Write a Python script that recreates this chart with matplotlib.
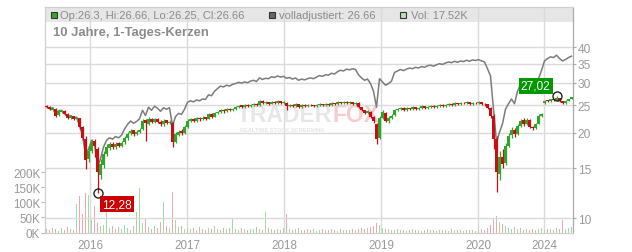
import matplotlib
matplotlib.use('Agg')
import matplotlib.pyplot as plt
import numpy as np
from matplotlib.ticker import FixedLocator, NullLocator, FuncFormatter
from matplotlib.patches import Rectangle

plt.rcParams['font.family'] = ['Liberation Sans', 'DejaVu Sans']

# ---------------- data (one candle per ~8 trading days) ----------------
opens = [
    24.9, 24.6, 24.1, 24.3, 23.1, 23.7, 23.9, 23.2, 22.5, 22.9,
    22.3, 22.5, 21.0, 19.0, 16.2, 17.3, 18.7, 17.5, 14.2, 15.4,
    16.9, 17.7, 18.3, 17.8, 18.4, 18.0, 18.5, 19.1, 19.9, 20.4,
    19.8, 20.2, 20.6, 22.1, 21.5, 22.4, 21.8, 22.4, 21.9, 21.4,
    22.1, 21.6, 21.6, 18.6, 19.7, 20.3, 20.0, 21.0, 22.0, 22.4,
    22.0, 22.6, 22.3, 22.7, 22.4, 23.3, 22.8, 23.4, 23.6, 24.1,
    23.8, 24.3, 24.0, 24.3, 24.6, 25.0, 24.7, 25.0, 24.8, 25.1,
    25.3, 25.0, 25.9, 25.4, 25.6, 25.3, 25.7, 25.5, 25.8, 25.4,
    25.5, 24.8, 25.1, 24.9, 25.2, 24.7, 25.0, 24.9, 25.1, 25.0,
    24.8, 25.0, 25.2, 25.0, 25.3, 25.1, 25.4, 25.2, 25.6, 25.4,
    25.7, 25.5, 25.6, 25.3, 25.5, 24.6, 24.0, 23.5, 23.7, 22.8,
    21.5, 19.2, 22.6, 23.5, 22.0, 22.6, 23.1, 24.0, 24.2, 24.5,
    24.1, 24.4, 24.3, 24.6, 24.2, 24.5, 24.8, 24.4, 24.7, 24.9,
    24.6, 24.9, 25.1, 24.8, 25.0, 25.3, 25.1, 25.4, 25.2, 25.5,
    25.4, 25.6, 25.3, 25.5, 25.4, 25.6, 25.3, 25.2, 24.5, 23.0,
    19.0, 14.3, 16.5, 15.6, 18.0, 19.6, 20.5, 19.8, 21.2, 22.1,
    21.5, 22.2, 21.0, 20.8, 21.5, 23.0, 25.4, 26.0, 25.9, 26.2,
    26.0, 26.5, 25.8, 25.5, 25.9, 26.3,
]
closes = [
    24.6, 24.2, 24.4, 23.0, 23.8, 23.9, 23.3, 22.6, 22.9, 22.4,
    22.6, 21.0, 19.2, 16.0, 17.2, 18.6, 18.0, 14.5, 15.5, 16.8,
    17.8, 18.2, 17.8, 18.3, 18.0, 18.4, 19.2, 19.8, 20.3, 19.8,
    20.1, 20.5, 22.0, 21.6, 22.4, 21.8, 22.3, 21.9, 21.4, 22.0,
    21.7, 21.9, 18.5, 19.8, 20.2, 20.0, 21.0, 22.0, 22.3, 22.0,
    22.5, 22.3, 22.6, 22.4, 23.2, 22.8, 23.4, 23.6, 24.0, 23.8,
    24.2, 24.0, 24.3, 24.6, 24.9, 24.7, 25.0, 24.8, 25.1, 25.3,
    25.0, 25.9, 25.4, 25.6, 25.3, 25.7, 25.5, 25.8, 25.4, 25.6,
    24.8, 25.1, 24.9, 25.2, 24.7, 25.0, 24.9, 25.1, 25.0, 24.8,
    25.0, 25.2, 25.0, 25.3, 25.1, 25.4, 25.2, 25.6, 25.4, 25.7,
    25.5, 25.6, 25.3, 25.5, 24.6, 24.0, 23.5, 23.8, 22.8, 22.0,
    19.0, 22.5, 23.6, 22.0, 22.6, 23.0, 24.0, 24.2, 24.5, 24.1,
    24.4, 24.3, 24.6, 24.2, 24.5, 24.8, 24.4, 24.7, 24.9, 24.6,
    24.9, 25.1, 24.8, 25.0, 25.3, 25.1, 25.4, 25.2, 25.5, 25.4,
    25.6, 25.3, 25.5, 25.4, 25.6, 25.3, 25.2, 24.5, 23.0, 19.0,
    14.5, 16.5, 15.5, 18.0, 19.5, 20.5, 19.8, 21.2, 22.0, 21.5,
    22.2, 21.0, 20.8, 21.5, 23.0, 23.3, 25.8, 25.9, 26.2, 26.0,
    26.6, 25.8, 25.5, 25.9, 26.2, 26.66,
]
highs = [
    25.0, 24.8, 24.6, 24.4, 24.0, 24.1, 24.0, 23.4, 23.1, 23.0,
    22.8, 22.6, 21.2, 19.5, 18.0, 19.0, 19.0, 17.8, 16.2, 17.2,
    18.3, 18.6, 18.5, 18.6, 18.6, 18.7, 19.5, 20.1, 20.6, 20.5,
    20.4, 20.8, 22.4, 22.3, 22.7, 22.6, 22.6, 22.5, 22.1, 22.3,
    22.2, 22.2, 21.8, 20.2, 20.5, 20.6, 21.3, 22.3, 22.6, 22.5,
    22.8, 22.7, 22.9, 22.8, 23.5, 23.4, 23.6, 23.9, 24.3, 24.2,
    24.4, 24.4, 24.5, 24.8, 25.1, 25.1, 25.2, 25.2, 25.3, 25.5,
    25.4, 26.1, 26.0, 25.8, 25.7, 25.9, 25.8, 26.0, 25.9, 25.8,
    25.6, 25.3, 25.2, 25.4, 25.3, 25.2, 25.2, 25.3, 25.3, 25.1,
    25.2, 25.4, 25.3, 25.5, 25.4, 25.6, 25.5, 25.8, 25.7, 25.9,
    25.8, 25.8, 25.7, 25.7, 25.6, 24.7, 24.1, 24.0, 23.8, 23.0,
    21.6, 23.0, 24.0, 23.6, 22.9, 23.3, 24.3, 24.4, 24.7, 24.6,
    24.6, 24.5, 24.8, 24.7, 24.7, 25.0, 24.9, 24.9, 25.1, 25.0,
    25.1, 25.3, 25.2, 25.2, 25.5, 25.4, 25.6, 25.5, 25.7, 25.6,
    25.8, 25.7, 25.7, 25.6, 25.8, 25.7, 25.4, 25.3, 24.6, 23.2,
    19.5, 17.2, 17.5, 18.4, 19.9, 21.0, 20.8, 21.5, 22.4, 22.5,
    22.5, 22.3, 21.2, 21.7, 23.2, 23.5, 26.0, 26.1, 26.4, 26.3,
    27.02, 26.6, 25.9, 26.0, 26.4, 26.66,
]
lows = [
    24.4, 24.0, 23.9, 22.7, 22.9, 23.5, 23.1, 22.4, 22.3, 22.2,
    22.0, 20.6, 18.8, 14.9, 15.8, 17.0, 16.5, 12.28, 13.8, 15.0,
    16.6, 17.4, 17.5, 17.6, 17.8, 17.8, 18.3, 18.9, 19.7, 19.5,
    19.6, 19.9, 20.5, 18.7, 21.3, 21.6, 21.6, 21.7, 21.1, 21.2,
    21.4, 21.4, 17.8, 18.4, 19.5, 19.6, 19.8, 20.8, 21.8, 21.8,
    21.9, 22.0, 22.1, 22.2, 22.3, 22.5, 22.7, 23.2, 23.4, 23.5,
    23.6, 23.8, 23.8, 24.1, 24.4, 24.5, 24.5, 24.6, 24.6, 24.9,
    24.8, 24.9, 25.2, 25.2, 25.1, 25.2, 25.3, 25.3, 25.2, 25.2,
    24.0, 24.6, 24.7, 24.7, 24.5, 24.5, 24.7, 24.7, 24.8, 24.6,
    24.6, 24.8, 24.8, 24.8, 24.9, 24.9, 25.0, 25.0, 25.2, 25.2,
    25.3, 25.3, 25.1, 25.1, 24.4, 23.8, 23.2, 23.2, 22.5, 21.6,
    18.2, 19.0, 22.4, 21.8, 21.7, 22.3, 23.0, 23.8, 24.0, 23.9,
    23.9, 24.1, 24.1, 24.0, 24.0, 24.3, 24.2, 24.2, 24.5, 24.4,
    24.4, 24.7, 24.6, 24.6, 24.8, 24.9, 24.9, 25.0, 25.0, 25.2,
    25.2, 25.1, 25.1, 25.2, 25.2, 25.1, 24.9, 24.2, 22.5, 17.5,
    12.4, 13.6, 15.0, 15.4, 17.8, 19.2, 19.4, 19.6, 20.9, 21.2,
    21.3, 20.8, 20.5, 20.6, 21.4, 22.8, 25.2, 25.6, 25.7, 25.8,
    25.9, 25.6, 25.3, 25.3, 25.8, 26.25,
]
adjusted = [
    24.7, 24.3, 24.5, 23.4, 23.9, 24.0, 23.4, 22.8, 23.0, 22.6,
    22.7, 21.2, 19.5, 16.8, 17.5, 18.8, 18.3, 15.2, 16.2, 17.8,
    18.8, 19.2, 19.0, 19.4, 19.2, 19.6, 20.6, 21.4, 22.0, 21.6,
    21.9, 22.4, 24.0, 23.0, 24.6, 24.0, 24.8, 24.4, 23.8, 24.5,
    24.2, 24.5, 21.2, 22.8, 23.4, 23.2, 24.2, 25.6, 25.9, 25.7,
    26.1, 25.9, 26.3, 26.2, 27.2, 27.0, 28.0, 28.6, 29.2, 29.0,
    29.4, 29.2, 29.6, 29.8, 30.1, 29.9, 30.2, 30.0, 30.4, 30.6,
    30.3, 31.2, 30.8, 31.1, 31.0, 31.5, 31.3, 31.7, 31.4, 31.6,
    31.1, 31.3, 30.9, 31.2, 30.6, 30.9, 30.7, 31.0, 31.2, 31.0,
    31.4, 31.8, 31.6, 32.0, 31.9, 32.4, 32.2, 32.8, 33.2, 33.0,
    33.5, 33.3, 33.6, 33.4, 32.0, 31.2, 30.6, 30.9, 29.8, 28.0,
    24.6, 31.0, 30.2, 29.4, 29.8, 30.4, 32.6, 33.0, 33.4, 33.1,
    33.5, 33.8, 33.6, 34.0, 33.8, 34.2, 34.0, 34.4, 34.6, 34.3,
    34.7, 35.0, 34.8, 35.2, 35.5, 35.3, 35.7, 35.4, 35.8, 35.6,
    36.0, 35.7, 36.1, 35.9, 36.2, 35.8, 35.5, 33.6, 31.7, 24.3,
    18.5, 20.1, 21.5, 24.2, 25.3, 26.3, 25.3, 28.0, 29.6, 28.5,
    30.4, 29.0, 28.0, 28.5, 31.0, 33.1, 35.8, 36.5, 37.0, 36.8,
    37.5, 36.5, 35.8, 36.2, 36.8, 37.2,
]
volumes_k = [
    12, 8, 15, 10, 6, 14, 9, 18, 11, 7,
    95, 122, 60, 132, 125, 40, 89, 30, 20, 25,
    68, 15, 22, 10, 18, 12, 25, 14, 9, 20,
    68, 148, 30, 45, 18, 12, 22, 15, 35, 100,
    20, 14, 135, 40, 18, 22, 12, 16, 10, 14,
    8, 18, 12, 9, 15, 11, 20, 13, 8, 16,
    10, 14, 45, 12, 9, 15, 11, 8, 13, 10,
    18, 12, 9, 68, 14, 10, 8, 12, 9, 15,
    60, 11, 8, 10, 14, 9, 7, 12, 8, 10,
    6, 9, 12, 8, 7, 10, 9, 6, 11, 8,
    9, 7, 10, 8, 12, 15, 10, 14, 18, 20,
    30, 25, 15, 12, 10, 9, 8, 11, 7, 9,
    6, 8, 10, 7, 9, 6, 8, 10, 7, 9,
    6, 8, 7, 9, 6, 10, 8, 7, 9, 6,
    8, 7, 9, 6, 8, 10, 9, 15, 25, 45,
    55, 35, 28, 20, 15, 12, 18, 10, 14, 9,
    12, 8, 10, 9, 11, 15, 8, 10, 12, 9,
    14, 10, 40, 12, 15, 17.52,
]
year_labels = ['2016', '2017', '2018', '2019', '2020', '2024']
year_tick_idx = [14.5, 46.8, 79.3, 111.5, 143.8, 165.8]
price_ticks = [10, 15, 20, 25, 30, 35, 40]
vol_ticks = [0, 50, 100, 150, 200]

legend_ohlc = 'Op:26.3, Hi:26.66, Lo:26.25, Cl:26.66'
legend_adj = 'volladjustiert: 26.66'
legend_vol = 'Vol: 17.52K'
title = '10 Jahre, 1-Tages-Kerzen'

# ---------------- styles ----------------
GREEN = '#2fa52a'
RED = '#c80f14'
VGREEN = '#a6d9a2'
VRED = '#f2a7ae'
GRID = '#dadada'
TXT = '#999999'

W, H = 632, 253
L, R, T, B = 45, 573, 8, 233.5

fig = plt.figure(figsize=(W / 100, H / 100), dpi=100)
axv = fig.add_axes([L / W, 1 - B / H, (R - L) / W, (B - T) / H])
axp = axv.twinx()
axp.patch.set_visible(False)


def axc(px, py):
    return ((px - L) / (R - L), (B - py) / (B - T))


o = np.array(opens)
c = np.array(closes)
h = np.array(highs)
lo = np.array(lows)
idx = np.arange(len(c))
up = c >= o
ccol = np.where(up, GREEN, RED)
vcol = np.where(up, VGREEN, VRED)

# volume
axv.bar(idx, volumes_k, width=0.6, color=vcol, lw=0, zorder=2)
axv.set_ylim(0, (B - T) / 0.301)
axv.set_xlim(-0.5, len(c) - 0.5)
axv.yaxis.set_major_locator(FixedLocator(vol_ticks))
axv.yaxis.set_major_formatter(FuncFormatter(lambda v, p: f'{int(v)}K'))
axv.xaxis.set_major_locator(FixedLocator(year_tick_idx))
axv.set_xticklabels(year_labels)
axv.tick_params(axis='y', length=3, color='#bbbbbb', labelsize=8.4, labelcolor=TXT, pad=0.5)
axv.tick_params(axis='x', length=0, labelsize=8.4, labelcolor=TXT, pad=5)
axv.grid(axis='x', color=GRID, lw=1, zorder=0.5)
axv.set_axisbelow(True)

# legend bar / title / watermark
axv.add_patch(Rectangle(axc(L, 22.7), 1, (22.7 - T) / (B - T), transform=axv.transAxes,
                        facecolor='#e6e6e6', edgecolor='none', zorder=0.2))
sq_h = 6 / (B - T)
sq_w = 6 / (R - L)
for px, fc in [(50.7, '#33aa22'), (269, '#666666'), (400, '#b8e0b4')]:
    x0, y0 = axc(px, 18.5)
    axv.add_patch(Rectangle((x0, y0), sq_w, sq_h, transform=axv.transAxes,
                            facecolor=fc, edgecolor='#333333', lw=0.8, zorder=5))
for px, s in [(60, legend_ohlc), (279, legend_adj), (411, legend_vol)]:
    axv.text(*axc(px, 15.6), s, transform=axv.transAxes, fontsize=8, color='#8a8a8a',
             ha='left', va='center', zorder=5)
axv.text(*axc(53, 33), title, transform=axv.transAxes, fontsize=9.4, fontweight='bold',
         color='#8a8a8a', ha='left', va='center', zorder=5)
axv.text(*axc(237, 115.5), 'TRADER', transform=axv.transAxes, fontsize=16.5, fontweight='bold',
         color='#e6e6e6', ha='left', va='center', zorder=1)
axv.text(*axc(333, 115.5), 'FOX', transform=axv.transAxes, fontsize=16.5, fontweight='bold',
         color='#f6cccc', ha='left', va='center', zorder=1)
axv.text(*axc(240, 130.5), 'REALTIME STOCK SCREENING', transform=axv.transAxes, fontsize=4.1,
         fontweight='bold', color='#e4e4e4', ha='left', va='center', zorder=1)

# price
axp.set_yscale('log')
axp.set_ylim(8.913, 55.42)
axp.yaxis.set_major_locator(FixedLocator(price_ticks))
axp.yaxis.set_minor_locator(NullLocator())
axp.yaxis.set_major_formatter(FuncFormatter(lambda v, p: f'{int(v)}'))
axp.tick_params(axis='y', which='both', length=2.5, color='#aaaaaa', labelsize=8.6,
                labelcolor=TXT, pad=1)
axp.grid(axis='y', color=GRID, lw=1)
axp.set_axisbelow(True)

axp.plot(idx, adjusted, color='#7c7c7c', lw=1.1, zorder=2)
axp.vlines(idx, lo, h, colors=ccol, lw=0.9, zorder=3)
axp.bar(idx, np.maximum(np.abs(c - o), 0.06), bottom=np.minimum(o, c), width=0.72,
        color=ccol, lw=0, zorder=3.1)

i_max = int(np.argmax(h))
i_min = int(np.argmin(lo))
for i, val, fc, off in [(i_max, h[i_max], '#009900', (-15, 7)),
                        (i_min, lo[i_min], '#cc0000', (14, -8))]:
    axp.plot(i, val, 'o', mfc='none', mec='#222222', ms=6.5, mew=1, zorder=6)
    axp.annotate(f'{val:.2f}'.replace('.', ','), (i, val), xytext=off, textcoords='offset points',
                 ha='center', va='center', color='white', fontsize=8.6, zorder=7,
                 bbox=dict(boxstyle='square,pad=0.18', fc=fc, ec='none'))

for ax in (axv, axp):
    for side in ('top', 'bottom', 'left'):
        ax.spines[side].set_color('#d0d0d0')
    ax.spines['right'].set_color('#aaaaaa')

fig.savefig('out.png', dpi=100)
